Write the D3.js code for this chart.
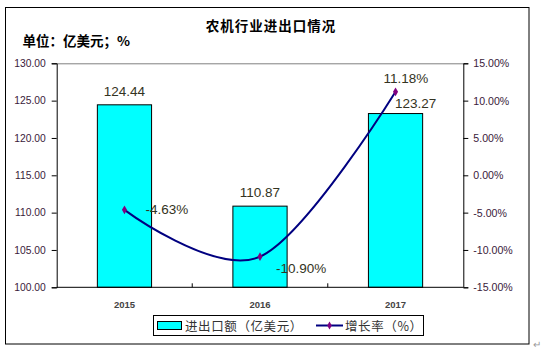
<!DOCTYPE html>
<html><head><meta charset="utf-8">
<script src="https://cdn.jsdelivr.net/npm/d3@7"></script>
<style>
html,body{margin:0;padding:0;background:#fff;}
svg{display:block;font-family:"Liberation Sans",Arial,"Noto Sans CJK SC",sans-serif;}
</style></head>
<body><svg id="c" width="548" height="351"></svg>
<script>
const years = ["2015", "2016", "2017"];
const tradeValues = [124.44, 110.87, 123.27];
const growthRates = [-4.63, -10.90, 11.18];
const leftTicks = [100, 105, 110, 115, 120, 125, 130];
const rightTicks = [-15, -10, -5, 0, 5, 10, 15];
const titleText = "农机行业进出口情况";
const unitText = "单位：亿美元；%";
const legendLabels = ["进出口额（亿美元）", "增长率（%）"];

const svg = d3.select("#c");
const L = 56.7, R = 463.3, T = 63.3, B = 287.3;
const cjk = "'Noto Sans CJK SC','Liberation Sans',sans-serif";

// outer border
svg.append("rect").attr("x", 5.5).attr("y", 7.5).attr("width", 523.5).attr("height", 336.5)
  .attr("fill", "#fff").attr("stroke", "#000").attr("stroke-width", 1);
svg.append("text").attr("x", 533).attr("y", 348).attr("font-size", 10).attr("fill", "#999").text("↵");

// title
svg.append("text").attr("x", 271).attr("y", 31).attr("text-anchor", "middle")
  .attr("font-family", cjk).attr("font-weight", "bold").attr("font-size", 13.5).attr("letter-spacing", 1)
  .attr("fill", "#000").text(titleText);
svg.append("text").attr("x", 22.5).attr("y", 45.5)
  .attr("font-family", cjk).attr("font-weight", "bold").attr("font-size", 13.5)
  .attr("fill", "#000").text(unitText);

const x = d3.scaleBand().domain(years).range([L, R]).paddingInner(0.6).paddingOuter(0.3);
const yL = d3.scaleLinear().domain([100, 130]).range([B, T]);
const yR = d3.scaleLinear().domain([-15, 15]).range([B, T]);

// plot top border
svg.append("line").attr("x1", L).attr("x2", R).attr("y1", T + 0.5).attr("y2", T + 0.5)
  .attr("stroke", "#808080").attr("stroke-width", 1);

// bars
svg.append("g").selectAll("rect").data(years).join("rect")
  .attr("x", d => x(d)).attr("y", (d, i) => yL(tradeValues[i]))
  .attr("width", x.bandwidth()).attr("height", (d, i) => B - yL(tradeValues[i]))
  .attr("fill", "#00FFFF").attr("stroke", "#000").attr("stroke-width", 1);

// left axis
const gl = svg.append("g").attr("transform", `translate(${L},0)`)
  .call(d3.axisLeft(yL).tickValues(leftTicks).tickFormat(d => d.toFixed(2)).tickSize(5).tickPadding(6));
gl.select(".domain").attr("stroke", "#000");
gl.selectAll("line").attr("stroke", "#000");
gl.selectAll("text").attr("font-size", 10.3).attr("fill", "#3a1a3a").attr("font-family", "'Liberation Sans',Arial,sans-serif");

// right axis
const gr = svg.append("g").attr("transform", `translate(${R},0)`)
  .call(d3.axisRight(yR).tickValues(rightTicks).tickFormat(d => d.toFixed(2) + "%").tickSize(5).tickPadding(5));
gr.select(".domain").attr("stroke", "#000");
gr.selectAll("line").attr("stroke", "#000");
gr.selectAll("text").attr("font-size", 10.6).attr("fill", "#3a1a3a").attr("font-family", "'Liberation Sans',Arial,sans-serif");

// bottom axis
svg.append("line").attr("x1", L).attr("x2", R).attr("y1", B).attr("y2", B).attr("stroke", "#000");
const bounds = d3.range(1, years.length).map(i => L + i * x.step());
svg.append("g").selectAll("line").data(bounds).join("line")
  .attr("x1", d => d).attr("x2", d => d).attr("y1", B).attr("y2", B - 4).attr("stroke", "#000");
svg.append("g").selectAll("text").data(years).join("text")
  .attr("x", d => x(d) + x.bandwidth() / 2).attr("y", 308).attr("text-anchor", "middle")
  .attr("font-size", 9.5).attr("font-weight", "bold").attr("fill", "#444").text(d => d);

// line
const pts = years.map((d, i) => [x(d) + x.bandwidth() / 2, yR(growthRates[i])]);
svg.append("path").datum(pts).attr("d", d3.line().curve(d3.curveCatmullRom.alpha(0)))
  .attr("fill", "none").attr("stroke", "#000080").attr("stroke-width", 2);
svg.append("g").selectAll("path").data(pts).join("path")
  .attr("transform", d => `translate(${d[0]},${d[1]})`)
  .attr("d", d3.symbol(d3.symbolDiamond, 22)).attr("fill", "#800080");

// data labels
const labColor = "#333322";
const barLabOff = [[0, -8.5], [0, -9.5], [20, -6]];
svg.append("g").selectAll("text").data(years).join("text")
  .attr("x", (d, i) => x(d) + x.bandwidth() / 2 + barLabOff[i][0])
  .attr("y", (d, i) => yL(tradeValues[i]) + barLabOff[i][1])
  .attr("text-anchor", "middle").attr("font-size", 13.5).attr("fill", labColor)
  .text(d => tradeValues[years.indexOf(d)].toFixed(2));
const lineLabOff = [[21, 4.5], [16, 16], [-12, -8.5]];
svg.append("g").selectAll("text").data(pts).join("text")
  .attr("x", (d, i) => d[0] + lineLabOff[i][0])
  .attr("y", (d, i) => d[1] + lineLabOff[i][1])
  .attr("text-anchor", "start").attr("font-size", 13.5).attr("fill", labColor)
  .text((d, i) => growthRates[i].toFixed(2) + "%");

// legend
const lg = svg.append("g");
lg.append("rect").attr("x", 153.5).attr("y", 315.5).attr("width", 270).attr("height", 20)
  .attr("fill", "#fff").attr("stroke", "#000");
lg.append("rect").attr("x", 157.5).attr("y", 321.5).attr("width", 24).attr("height", 8)
  .attr("fill", "#00FFFF").attr("stroke", "#000");
lg.append("text").attr("x", 185).attr("y", 330.5).attr("font-family", cjk).attr("font-size", 12.5)
  .attr("letter-spacing", 0.6).attr("fill", "#333").text(legendLabels[0]);
lg.append("line").attr("x1", 316).attr("x2", 343).attr("y1", 325.5).attr("y2", 325.5)
  .attr("stroke", "#000080").attr("stroke-width", 2);
lg.append("path").attr("transform", "translate(329.5,325.5)").attr("d", d3.symbol(d3.symbolDiamond, 18)).attr("fill", "#800080");
lg.append("text").attr("x", 345).attr("y", 330.5).attr("font-family", cjk).attr("font-size", 12.5)
  .attr("letter-spacing", 0.6).attr("fill", "#333").text(legendLabels[1]);
</script></body></html>
